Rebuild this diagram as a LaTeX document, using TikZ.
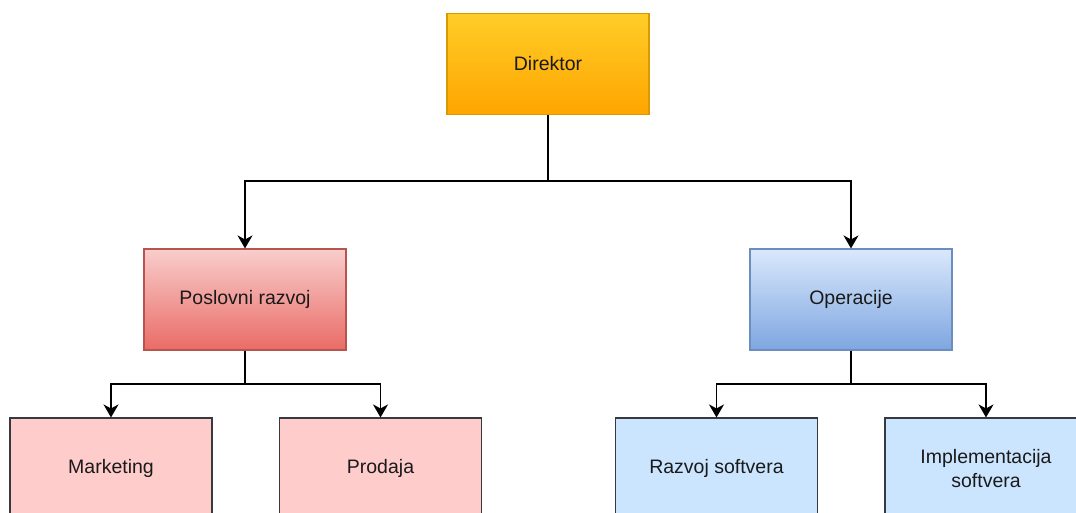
\documentclass[tikz,border=0pt]{standalone}
\usepackage{fontspec}
\setmainfont{Liberation Sans}
\usetikzlibrary{arrows.meta}

\definecolor{orgTop}{HTML}{FFCD28}
\definecolor{orgBot}{HTML}{FFA500}
\definecolor{orgLine}{HTML}{D79B00}
\definecolor{redTop}{HTML}{F8CECC}
\definecolor{redBot}{HTML}{EA6B66}
\definecolor{redLine}{HTML}{B85450}
\definecolor{bluTop}{HTML}{DAE8FC}
\definecolor{bluBot}{HTML}{7EA6E0}
\definecolor{bluLine}{HTML}{6C8EBF}
\definecolor{pinkFill}{HTML}{FFCCCC}
\definecolor{skyFill}{HTML}{CCE5FF}
\definecolor{darkLine}{HTML}{36393D}
\definecolor{txt}{HTML}{1A1A1A}

\tikzset{
  unit/.style={rectangle, minimum width=202pt, minimum height=101pt,
    line width=1.1pt, align=center, text=txt,
    font=\fontsize{19.5}{23.5}\selectfont, inner sep=0pt},
  headbox/.style={unit, draw=orgLine, top color=orgTop, bottom color=orgBot},
  redbox/.style={unit, draw=redLine, top color=redTop, bottom color=redBot},
  bluebox/.style={unit, draw=bluLine, top color=bluTop, bottom color=bluBot},
  pinkbox/.style={unit, draw=darkLine, fill=pinkFill},
  skybox/.style={unit, draw=darkLine, fill=skyFill},
  conn/.style={line width=1.6pt, black,
    -{Stealth[length=13pt, width=15pt, inset=4pt]}}
}

\begin{document}
\begin{tikzpicture}[x=1pt, y=-1pt]
  \clip (0,0) rectangle (1076,513);
  \fill[white] (0,0) rectangle (1076,513);

  % top level
  \node[headbox] (dir) at (548,64) {Direktor};

  % departments
  \node[redbox]  (pr) at (245,299.5) {Poslovni razvoj};
  \node[bluebox] (op) at (851,299.5) {Operacije};

  % units
  \node[pinkbox] (mk) at (111,468.5) {Marketing};
  \node[pinkbox] (pd) at (380.5,468.5) {Prodaja};
  \node[skybox]  (rs) at (716.5,468.5) {Razvoj softvera};
  \node[skybox]  (is) at (986,468.5) {Implementacija\\softvera};

  % junction levels
  \coordinate (j1) at (548,181);
  \coordinate (j2) at (245,384);
  \coordinate (j3) at (851,384);

  % connectors
  \draw[conn] (dir.south) -- (j1) -| (pr.north);
  \draw[conn] (dir.south) -- (j1) -| (op.north);
  \draw[conn] (pr.south) -- (j2) -| (mk.north);
  \draw[conn] (pr.south) -- (j2) -| (pd.north);
  \draw[conn] (op.south) -- (j3) -| (rs.north);
  \draw[conn] (op.south) -- (j3) -| (is.north);
\end{tikzpicture}
\end{document}
